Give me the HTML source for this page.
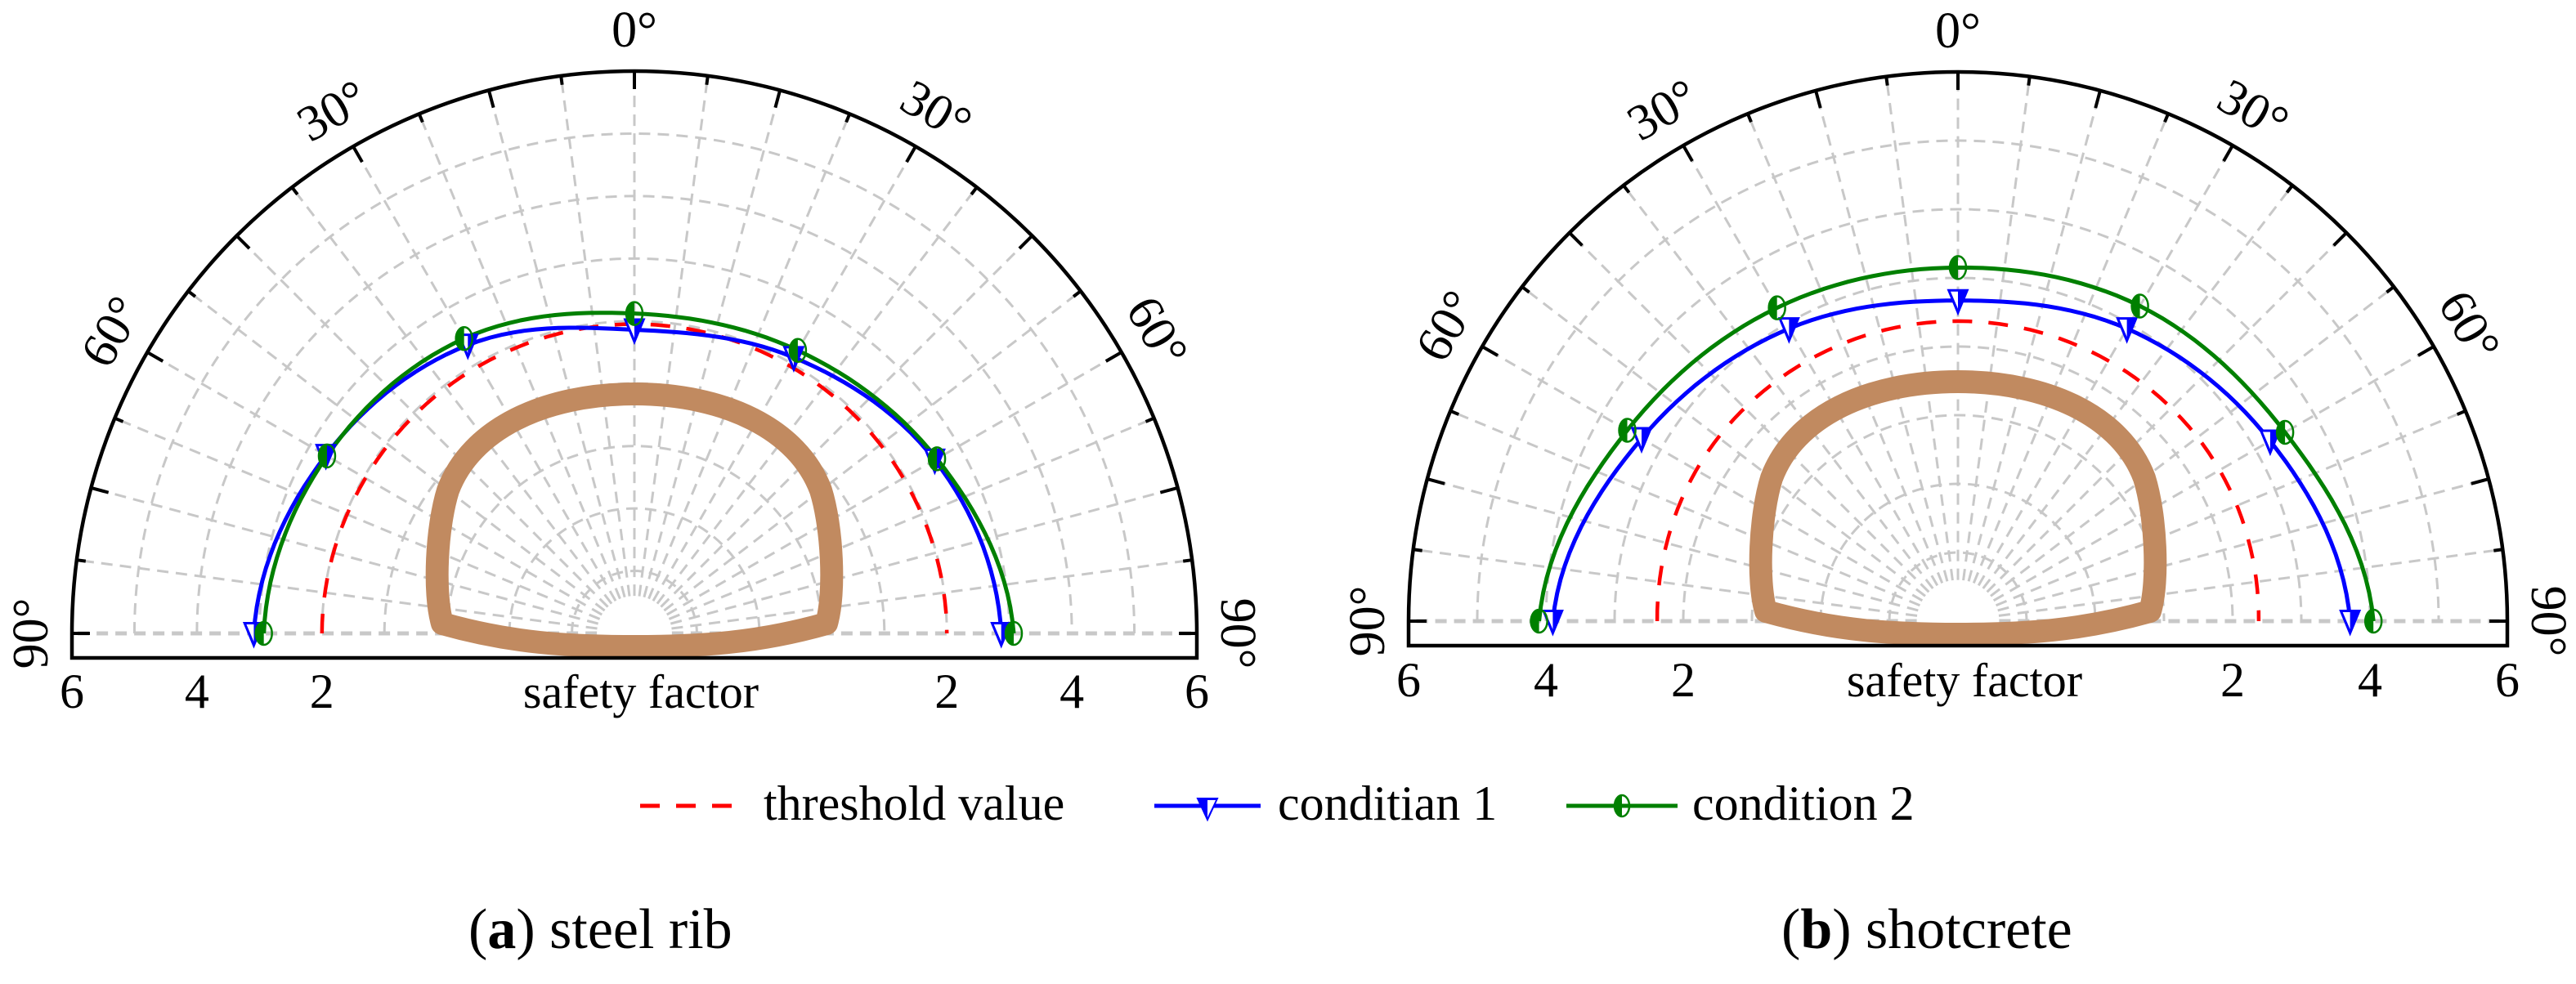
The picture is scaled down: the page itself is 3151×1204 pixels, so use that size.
<!DOCTYPE html>
<html><head><meta charset="utf-8">
<style>
html,body{margin:0;padding:0;background:#fff;}
svg{display:block;font-family:"Liberation Serif","DejaVu Serif",serif;}
svg text{font-family:"Liberation Serif","DejaVu Serif",serif;fill:#000;}
</style></head>
<body>
<svg id="fig" width="3151" height="1204" viewBox="0 0 3151 1204" xmlns="http://www.w3.org/2000/svg">
  <g id="chartA"></g>
  <g id="chartB"></g>
  <g id="legend">
    <g>
      <line x1="783" y1="986" x2="913" y2="986" stroke="#ff0000" stroke-width="5" stroke-dasharray="24,20"/>
      <text x="934" y="1003" font-size="60">threshold value</text>
    </g>
    <g>
      <line x1="1412" y1="986" x2="1542" y2="986" stroke="#0000ff" stroke-width="5"/>
      <path d="M1465,977 L1489,977 L1477,1003 Z" fill="#0000ff" stroke="#0000ff" stroke-width="2"/>
      <path d="M1477,979 L1487,979 L1477,1000 Z" fill="#fff"/>
      <text x="1563" y="1003" font-size="60">conditian 1</text>
    </g>
    <g>
      <line x1="1916" y1="986" x2="2052" y2="986" stroke="#008000" stroke-width="5"/>
      <path d="M1984,973 A9,13 0 0 0 1984,999 Z" fill="#008000"/>
      <ellipse cx="1984" cy="986" rx="9" ry="13" fill="none" stroke="#008000" stroke-width="2.5"/>
      <text x="2070" y="1003" font-size="60">condition 2</text>
    </g>
  </g>
  <text x="573" y="1160" font-size="70">(<tspan font-weight="bold">a</tspan>) steel rib</text>
  <text x="2179" y="1160" font-size="70">(<tspan font-weight="bold">b</tspan>) shotcrete</text>
</svg>
<script>
// ---- data ----
const angles = [-90, -60, -30, 0, 30, 60, 90];
const tickValues = [2, 4, 6];
const tickLabels = ["2", "4", "6"];
const angleLabelValues = [-90, -60, -30, 0, 30, 60, 90];
const angleLabelText = ["90°", "60°", "30°", "0°", "30°", "60°", "90°"];
const steelThreshold = [2.0, 1.97, 1.95, 1.95, 1.95, 1.97, 2.0];
const steelCond1 = [3.09, 2.70, 2.33, 1.86, 2.10, 2.55, 2.87];
const steelCond2 = [2.93, 2.68, 2.45, 2.12, 2.23, 2.59, 3.07];
const shotThreshold = [2.38, 2.40, 2.38, 2.37, 2.38, 2.40, 2.38];
const shotCond1 = [3.90, 3.32, 2.92, 2.67, 2.92, 3.25, 3.71];
const shotCond2 = [4.10, 3.56, 3.27, 3.15, 3.30, 3.50, 4.05];

const NS = "http://www.w3.org/2000/svg";
function mk(tag, attrs, parent) {
  const el = document.createElementNS(NS, tag);
  for (const k in attrs) el.setAttribute(k, attrs[k]);
  parent.appendChild(el);
  return el;
}

function drawChart(g, cfg) {
  const cx = cfg.cx, cy = cfg.cy, R = cfg.R, vmin = cfg.vmin, vmax = 6;
  const r = v => (v - vmin) / (vmax - vmin) * R;
  const px = (a, v) => cx + r(v) * Math.sin(a * Math.PI / 180);
  const py = (a, v) => cy - r(v) * Math.cos(a * Math.PI / 180);
  const grid = mk("g", {}, g);
  
  
  for (let v = Math.ceil(vmin + 1); v < vmax; v++) {
    const rr = r(v);
    const c = mk("path", {d: `M${cx - rr},${cy} A${rr},${rr} 0 0 1 ${cx + rr},${cy}`, fill: "none", stroke: "#c8c8c8", "stroke-width": 3, "stroke-dasharray": "14,9"}, grid);
    
    
  }
  for (let a = -90; a <= 90; a += 7.5) {
    const s = mk("line", {x1: px(a, vmin + 0.6), y1: py(a, vmin + 0.6), x2: px(a, vmax), y2: py(a, vmax), stroke: "#c8c8c8", "stroke-width": (Math.abs(a) === 90 ? 5 : 3), "stroke-dasharray": "14,9"}, grid);
    
    
  }
  const tun = mk("path", {d: cfg.tunnel, transform: `translate(${cx},${cy})`, fill: "none", stroke: "#c18a60", "stroke-width": 28, "stroke-linejoin": "round"}, g);
  
  
  const frame = mk("path", {d: `M${cx - R},${cfg.axisY} L${cx - R},${cy} A${R},${R} 0 0 1 ${cx + R},${cy} L${cx + R},${cfg.axisY} Z`, fill: "none", stroke: "#000", "stroke-width": 4.5}, g);
  
  
  for (let a = -90; a <= 90; a += 7.5) {
    const len = (Math.abs(a) % 15 === 0) ? 22 : 11;
    const s = Math.sin(a * Math.PI / 180), c = Math.cos(a * Math.PI / 180);
    const t = mk("line", {x1: cx + R * s, y1: cy - R * c, x2: cx + (R - len) * s, y2: cy - (R - len) * c, stroke: "#000", "stroke-width": 4}, g);
    
    
  }
  const L = R + 50;
  angleLabelValues.forEach((a, i) => {
    const s = Math.sin(a * Math.PI / 180), c = Math.cos(a * Math.PI / 180);
    const x = cx + L * s, y = cy - L * c;
    const t = mk("text", {x: x, y: y, "font-size": 62, "text-anchor": "middle", "dominant-baseline": "central", transform: `rotate(${a},${x},${y})`}, g);
    t.textContent = angleLabelText[i];
    
    
  });
  tickValues.forEach((v, i) => {
    [-1, 1].forEach(side => {
      const t = mk("text", {x: cx + side * r(v), y: cfg.labelY, "font-size": 60, "text-anchor": "middle"}, g);
      t.textContent = tickLabels[i];
      
      
    });
  });
  const xt = mk("text", {x: cx + 8, y: cfg.labelY, "font-size": 58, "text-anchor": "middle"}, g);
  xt.textContent = "safety factor";
  
  

  function smooth(vals) {
    const pts = [];
    const n = vals.length;
    for (let i = 0; i < n - 1; i++) {
      const p0 = vals[Math.max(i - 1, 0)], p1 = vals[i], p2 = vals[i + 1], p3 = vals[Math.min(i + 2, n - 1)];
      const a0 = angles[i], a1 = angles[i + 1];
      for (let k = 0; k < 15; k++) {
        const t = k / 15;
        const v = 0.5 * ((2 * p1) + (-p0 + p2) * t + (2 * p0 - 5 * p1 + 4 * p2 - p3) * t * t + (-p0 + 3 * p1 - 3 * p2 + p3) * t * t * t);
        const a = a0 + (a1 - a0) * t;
        pts.push([px(a, v), py(a, v)]);
      }
    }
    pts.push([px(angles[n - 1], vals[n - 1]), py(angles[n - 1], vals[n - 1])]);
    return "M" + pts.map(p => p[0].toFixed(1) + "," + p[1].toFixed(1)).join(" L");
  }
  const red = mk("path", {d: smooth(cfg.thr), fill: "none", stroke: "#ff0000", "stroke-width": 4.5, "stroke-dasharray": "24,20"}, g);
  
  
  const blue = mk("path", {d: smooth(cfg.c1), fill: "none", stroke: "#0000ff", "stroke-width": 5}, g);
  
  
  const green = mk("path", {d: smooth(cfg.c2), fill: "none", stroke: "#008000", "stroke-width": 5}, g);
  
  
  angles.forEach((a, i) => {
    const x = px(a, cfg.c1[i]), y = py(a, cfg.c1[i]);
    const m = mk("path", {d: `M${x - 12},${y - 13} L${x + 12},${y - 13} L${x},${y + 16} Z`, fill: "#0000ff", stroke: "#0000ff", "stroke-width": 2}, g);
    
    
    const h = mk("path", {d: `M${x - 9},${y - 11} L${x},${y - 11} L${x},${y + 10} Z`, fill: "#fff"}, g);
    
    
  });
  angles.forEach((a, i) => {
    const x = px(a, cfg.c2[i]), y = py(a, cfg.c2[i]);
    const f = mk("path", {d: `M${x},${y - 14} A10,14 0 0 0 ${x},${y + 14} Z`, fill: "#008000"}, g);
    
    
    const m = mk("ellipse", {cx: x, cy: y, rx: 10, ry: 14, fill: "none", stroke: "#008000", "stroke-width": 2.5}, g);
    
    
  });
}

const tunnelPath = "M-235,-12 C-246,-50 -242,-130 -228,-175 C-200,-250 -110,-293 0,-293 C110,-293 200,-250 228,-175 C242,-130 246,-50 235,-12 C150,12 80,16 0,16 C-80,16 -150,12 -235,-12 Z";

drawChart(document.getElementById("chartA"), {cx: 776, cy: 775, R: 688, vmin: -3, axisY: 805, labelY: 866, tunnel: tunnelPath, thr: steelThreshold, c1: steelCond1, c2: steelCond2});
drawChart(document.getElementById("chartB"), {cx: 2395, cy: 760, R: 672, vmin: -2, axisY: 790, labelY: 852, tunnel: tunnelPath, thr: shotThreshold, c1: shotCond1, c2: shotCond2});
</script>
</body></html>
